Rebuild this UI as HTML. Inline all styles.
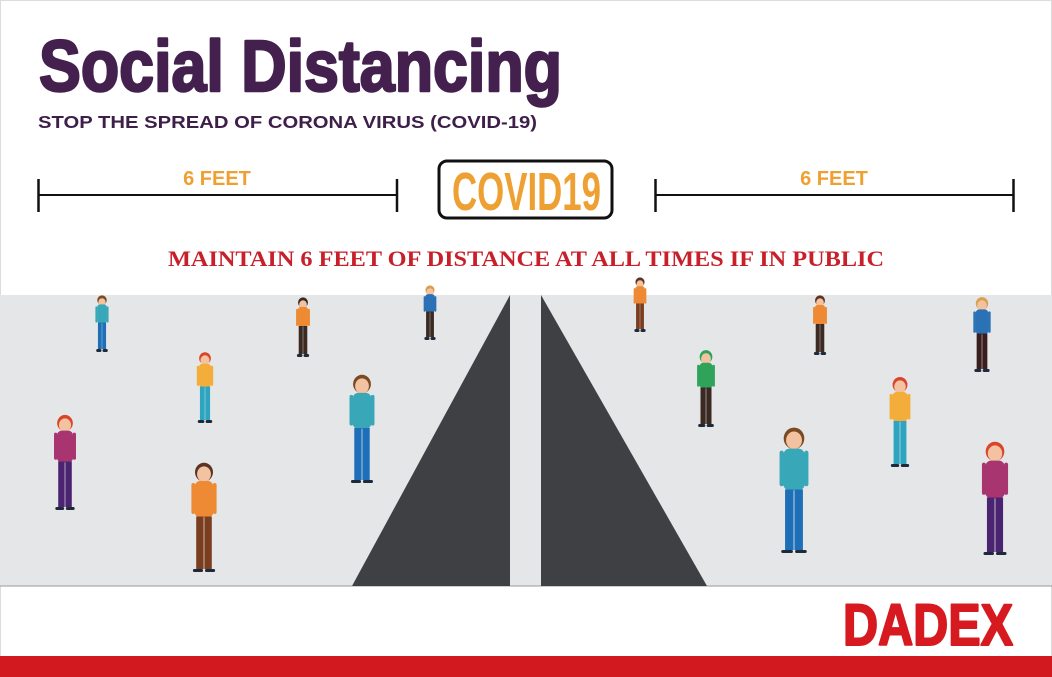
<!DOCTYPE html>
<html><head><meta charset="utf-8"><style>
html,body{margin:0;padding:0;background:#fff;}
svg{display:block;}
</style></head><body>
<svg id="scene" width="1052" height="677" viewBox="0 0 1052 677" xmlns="http://www.w3.org/2000/svg">
<rect x="0" y="0" width="1052" height="677" fill="#ffffff" stroke="#dcdcdc" stroke-width="2"/>
<text x="39" y="91" font-family="'Liberation Sans Narrow','Liberation Sans',sans-serif" font-weight="bold" font-size="72" fill="#44204f" stroke="#44204f" stroke-width="2.5" stroke-linejoin="round" textLength="523" lengthAdjust="spacingAndGlyphs">Social Distancing</text>
<text x="38" y="128" font-family="'Liberation Sans',sans-serif" font-weight="bold" font-size="17.5" fill="#3d1f4a" textLength="499" lengthAdjust="spacingAndGlyphs">STOP THE SPREAD OF CORONA VIRUS (COVID-19)</text>
<g>
<text x="217" y="185" text-anchor="middle" font-family="'Liberation Sans',sans-serif" font-weight="bold" font-size="20" fill="#eea032">6 FEET</text>
<line x1="38" y1="195" x2="397" y2="195" stroke="#111" stroke-width="2"/>
<line x1="38.5" y1="179" x2="38.5" y2="212" stroke="#111" stroke-width="2.5"/>
<line x1="397" y1="179" x2="397" y2="212" stroke="#111" stroke-width="2.5"/>
</g>
<g>
<text x="834" y="185" text-anchor="middle" font-family="'Liberation Sans',sans-serif" font-weight="bold" font-size="20" fill="#eea032">6 FEET</text>
<line x1="655" y1="195" x2="1014" y2="195" stroke="#111" stroke-width="2"/>
<line x1="655.5" y1="179" x2="655.5" y2="212" stroke="#111" stroke-width="2.5"/>
<line x1="1013.5" y1="179" x2="1013.5" y2="212" stroke="#111" stroke-width="2.5"/>
</g>
<g>
<rect x="439" y="161" width="173" height="57" rx="8" fill="#fff" stroke="#111" stroke-width="3"/>
<text x="452" y="210" font-family="'Liberation Sans Narrow','Liberation Sans',sans-serif" font-weight="bold" font-size="54" fill="#eea032" textLength="149" lengthAdjust="spacingAndGlyphs">COVID19</text>
</g>
<text x="168" y="266" font-family="'Liberation Serif',serif" font-weight="bold" font-size="22" fill="#c8202a" textLength="716" lengthAdjust="spacingAndGlyphs">MAINTAIN 6 FEET OF DISTANCE AT ALL TIMES IF IN PUBLIC</text>
<rect x="0" y="295" width="1052" height="291" fill="#e5e6e8"/>
<line x1="0" y1="586" x2="1052" y2="586" stroke="#9a9a9a" stroke-width="1"/>
<polygon points="510,295 510,586 352,586" fill="#3f4043"/>
<polygon points="541,295 541,586 707,586" fill="#3f4043"/>
<g id="people"></g>
<text x="843" y="645" font-family="'Liberation Sans',sans-serif" font-weight="bold" font-size="58" fill="#d71920" stroke="#d71920" stroke-width="2" stroke-linejoin="round" textLength="170" lengthAdjust="spacingAndGlyphs">DADEX</text>
<rect x="0" y="656" width="1052" height="21" fill="#d2191f"/>
</svg>
<script>
const personX = [102,205,303,430,362,65,204,640,706,820,982,900,794,995];
const personTop = [295,352,297,285,375,415,463,277,350,295,297,377,428,442];
const personBottom = [352,423,357,340,483,510,572,332,427,355,372,467,553,555];
const shirtColors = ['#38a8b8','#f2ad3a','#ee8a33','#2a72b5','#38a8b8','#a8356f','#ee8a33','#ee8a33','#2fa35a','#ee8a33','#2a72b5','#f2ad3a','#38a8b8','#a8356f'];
const pantsColors = ['#1d6fb8','#2da5c0','#3a2a22','#3a2a22','#1d6fb8','#4a2470','#7a3d1e','#7a3d1e','#3a2a22','#3a2a22','#3a1e1e','#2da5c0','#1d6fb8','#4a2470'];
const hairColors = ['#7a4a22','#d9452a','#3a2a22','#d9a050','#7a4a22','#d9452a','#5a3322','#5a3322','#2fa35a','#5a3322','#d9a050','#d9452a','#7a4a22','#d9452a'];
const NS='http://www.w3.org/2000/svg';
const g=document.getElementById('people');
function mk(tag,attrs,parent){const e=document.createElementNS(NS,tag);for(const k in attrs)e.setAttribute(k,attrs[k]);parent.appendChild(e);return e;}
for(let i=0;i<personX.length;i++){
  const cx=personX[i],t=personTop[i],b=personBottom[i],h=b-t;
  const p=document.createElementNS(NS,'g');
  
  
  g.appendChild(p);
  const hr=h*0.075, w=h*0.17;
  mk('ellipse',{cx:cx,cy:t+hr+1,rx:hr*1.1,ry:hr*1.15,fill:hairColors[i]},p);
  mk('ellipse',{cx:cx,cy:t+hr+3,rx:hr*0.85,ry:hr*0.95,fill:'#f3c2a0'},p);
  const st=t+hr*2.2, sb=t+h*0.5;
  mk('rect',{x:cx-w/2,y:st,width:w,height:sb-st,rx:w*0.3,fill:shirtColors[i]},p);
  mk('rect',{x:cx-w/2-w*0.18,y:st+2,width:w*0.2,height:(sb-st)*0.85,rx:w*0.1,fill:shirtColors[i]},p);
  mk('rect',{x:cx+w/2-w*0.02,y:st+2,width:w*0.2,height:(sb-st)*0.85,rx:w*0.1,fill:shirtColors[i]},p);
  mk('rect',{x:cx-w*0.42,y:sb-1,width:w*0.4,height:b-sb-2,fill:pantsColors[i]},p);
  mk('rect',{x:cx+w*0.02,y:sb-1,width:w*0.4,height:b-sb-2,fill:pantsColors[i]},p);
  mk('rect',{x:cx-w*0.6,y:b-3,width:w*0.55,height:3,rx:1.5,fill:'#1e2a3a'},p);
  mk('rect',{x:cx+w*0.05,y:b-3,width:w*0.55,height:3,rx:1.5,fill:'#1e2a3a'},p);
}
</script>
</body></html>
